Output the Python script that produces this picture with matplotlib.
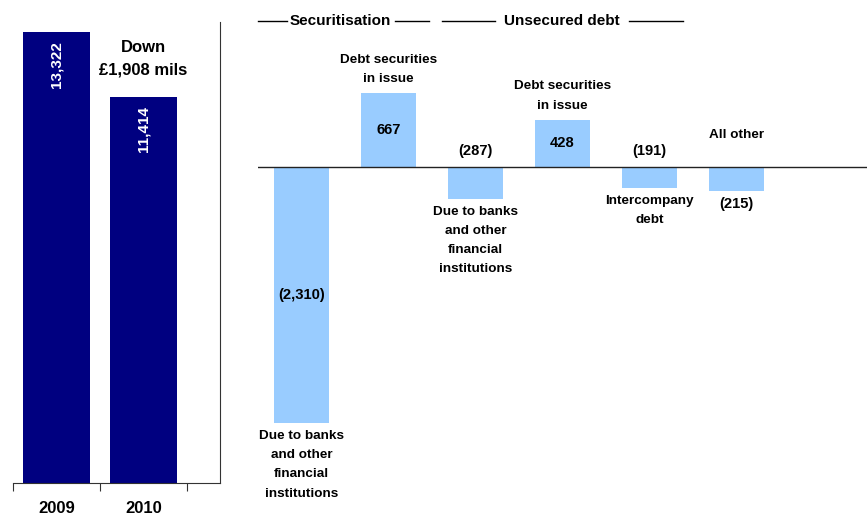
import matplotlib.pyplot as plt
from matplotlib.transforms import blended_transform_factory

plt.rcParams['font.family'] = ['Liberation Sans', 'DejaVu Sans']

# Year-end balances (GBP millions)
years = ['2009', '2010']
balances = [13322, 11414]
balance_labels = ['13,322', '11,414']

# Movements between the two year ends
moves = [-2310, 667, -287, 428, -191, -215]
move_labels = ['(2,310)', '667', '(287)', '428', '(191)', '(215)']
move_names = ['Due to banks\nand other\nfinancial\ninstitutions',
              'Debt securities\nin issue',
              'Due to banks\nand other\nfinancial\ninstitutions',
              'Debt securities\nin issue',
              'Intercompany\ndebt',
              'All other']

NAVY = '#000080'
LIGHT = '#99CCFF'
W, H = 868, 518

fig = plt.figure(figsize=(W / 100, H / 100), dpi=100)

def px_axes(x0, y0, x1, y1):
    return fig.add_axes([x0 / W, 1 - y1 / H, (x1 - x0) / W, (y1 - y0) / H])

# ---- left panel: totals ----
ax = px_axes(13, 22, 220, 483)
ax.bar(range(len(years)), balances, width=0.77, color=NAVY)
ax.set_xlim(-0.5, 1.88)
ax.set_ylim(0, 13615)
for s in ('left', 'top'):
    ax.spines[s].set_visible(False)
ax.spines['bottom'].set_color('#333333')
ax.spines['right'].set_color('#333333')
ax.set_yticks([])
ax.set_xticks([-0.5, 0.5, 1.5])
ax.set_xticklabels([])
ax.tick_params(axis='x', which='major', direction='out', length=6, color='#333333')
ax.set_xticks(range(len(years)), minor=True)
ax.set_xticklabels(years, minor=True, fontsize=12, fontweight='bold')
ax.tick_params(axis='x', which='minor', length=0, pad=13)
for i, (v, lab) in enumerate(zip(balances, balance_labels)):
    ax.annotate(lab, (i, v), xytext=(0, -9), textcoords='offset pixels',
                rotation=90, ha='center', va='top', color='white',
                fontsize=11, fontweight='bold')
drop = balances[0] - balances[1]
ax.annotate(f'Down\n£{drop:,} mils', (1, balances[0]), xytext=(0, -8),
            textcoords='offset pixels', ha='center', va='top',
            fontsize=12, fontweight='bold', linespacing=1.65)

# ---- right panel: movements ----
bx = px_axes(258, 22, 867, 483)
pos = list(range(len(moves)))
bx.bar(pos, moves, width=0.63, color=LIGHT)
bx.axhline(0, color='#222222', lw=1)
bx.set_xlim(-0.5, 6.5)
bx.set_ylim(-2852, 1309)
bx.axis('off')

txt = dict(ha='center', fontsize=9.7, fontweight='bold', linespacing=1.8,
           textcoords='offset pixels')
val = dict(ha='center', fontsize=10.6, fontweight='bold')

for i, (v, lab, name) in enumerate(zip(moves, move_labels, move_names)):
    if i == 5:
        bx.annotate(name, (i, 0), xytext=(0, 26), va='bottom', **txt)
        bx.annotate(lab, (i, v), xytext=(0, -6), va='top', textcoords='offset pixels', **val)
    elif v > 0:
        bx.text(i, v / 2, lab, va='center', **val)
        bx.annotate(name, (i, v), xytext=(0, 8), va='bottom', **txt)
    elif i == 0:
        bx.text(i, v / 2, lab, va='center', **val)
        bx.annotate(name, (i, v), xytext=(0, -7), va='top', **txt)
    else:
        bx.annotate(lab, (i, 0), xytext=(0, 9), va='bottom', textcoords='offset pixels', **val)
        bx.annotate(name, (i, v), xytext=(0, -7), va='top', **txt)

# group headers across the top
tr = blended_transform_factory(bx.transData, fig.transFigure)
hy = 1 - 21 / H
for x0, x1 in [(-0.5, -0.17), (1.07, 1.47), (1.62, 2.22), (3.77, 4.38)]:
    fig.add_artist(plt.Line2D([x0, x1], [hy, hy], color='black', lw=1, transform=tr))
fig.text(0.45, hy, 'Securitisation', transform=tr, ha='center', va='center',
         fontsize=11, fontweight='bold')
fig.text(2.99, hy, 'Unsecured debt', transform=tr, ha='center', va='center',
         fontsize=11, fontweight='bold')

fig.savefig('out.png', dpi=100)
